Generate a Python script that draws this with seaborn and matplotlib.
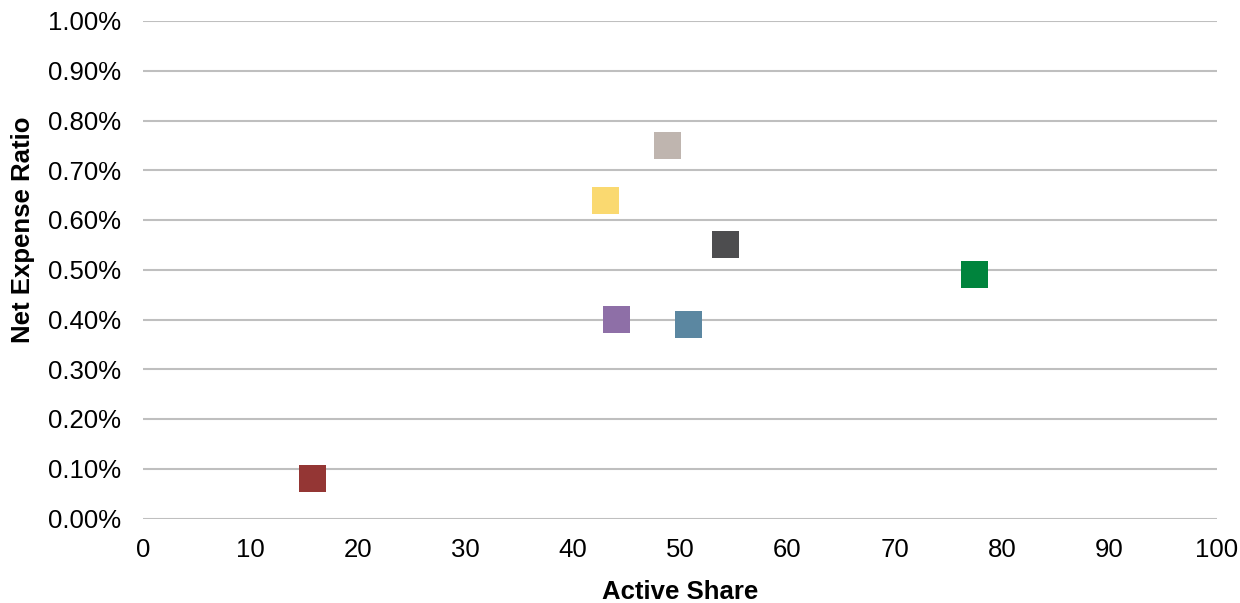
import matplotlib
matplotlib.use("Agg")
import matplotlib.pyplot as plt
from matplotlib.ticker import FuncFormatter, MultipleLocator
import seaborn as sns
import pandas as pd

# Fund data: active share (%) vs. net expense ratio (%)
funds = ["Fund A", "Fund B", "Fund C", "Fund D", "Fund E", "Fund F", "Fund G"]
active_share = [15.8, 43.1, 44.1, 48.8, 50.8, 54.2, 77.4]
expense_ratio = [0.08, 0.64, 0.40, 0.75, 0.39, 0.55, 0.49]
colors = ["#943634", "#FAD970", "#8E6FA7", "#BFB5AF", "#5B87A1", "#4D4D4F", "#00843D"]

df = pd.DataFrame({"fund": funds, "active": active_share, "ratio": expense_ratio})

sns.set_theme(style="white")
plt.rcParams["font.family"] = ["Liberation Sans", "DejaVu Sans"]

fig = plt.figure(figsize=(12.4, 6.03), dpi=100)
ax = fig.add_subplot(111)
fig.subplots_adjust(left=143 / 1240, right=1217 / 1240, top=1 - 21 / 603, bottom=1 - 518.5 / 603)

sns.scatterplot(data=df, x="active", y="ratio", hue="fund", palette=colors,
                marker="s", s=380, linewidth=0, legend=False, ax=ax, zorder=3)

ax.set_xlim(0, 100)
ax.set_ylim(0, 1.0)
ax.xaxis.set_major_locator(MultipleLocator(10))
ax.yaxis.set_major_locator(MultipleLocator(0.1))
ax.yaxis.set_major_formatter(FuncFormatter(lambda v, _: f"{v:.2f}%"))

ax.grid(axis="y", color="#BFBFBF", linewidth=1.5)
ax.grid(axis="x", visible=False)
ax.set_axisbelow(True)
for sp in ax.spines.values():
    sp.set_visible(False)

ax.tick_params(axis="both", length=0, labelsize=18.5, labelcolor="#000000")
ax.tick_params(axis="y", pad=16)
ax.tick_params(axis="x", pad=14)

ax.set_xlabel("Active Share", fontsize=18.5, fontweight="bold", color="#000000", labelpad=13)
ax.set_ylabel("Net Expense Ratio", fontsize=18.5, fontweight="bold", color="#000000")
ax.yaxis.set_label_coords(-0.1006, 0.58)

fig.savefig("out.png", dpi=100)
